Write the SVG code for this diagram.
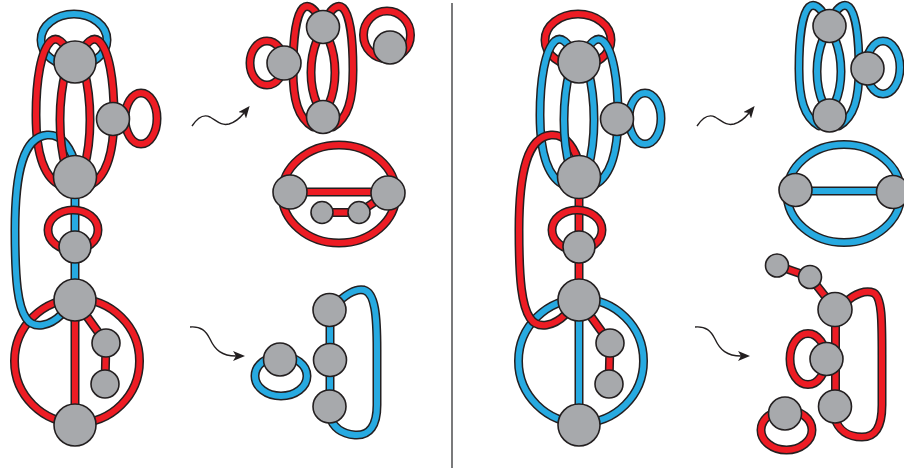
<svg xmlns="http://www.w3.org/2000/svg" width="904" height="470" viewBox="0 0 904 470">
<style>
.k{fill:none;stroke:#231f20;stroke-width:9;stroke-linecap:round}
.r{fill:none;stroke:#ed1c24;stroke-width:6;stroke-linecap:round}
.b{fill:none;stroke:#27aae1;stroke-width:6;stroke-linecap:round}
.n{fill:#a7a9ac;stroke:#231f20;stroke-width:1.6}
.sq{fill:none;stroke:#231f20;stroke-width:1.4}
.div{stroke:#58595b;stroke-width:1.6}
</style>
<defs>
<marker id="ah" viewBox="0 0 12 10" refX="3" refY="5" markerWidth="12" markerHeight="10" markerUnits="userSpaceOnUse" orient="auto">
<path d="M0,0 L12,5 L0,10 L3,5 z" fill="#231f20"/>
</marker>
<!-- main figure edges -->
<ellipse id="mTop" cx="74" cy="40" rx="33" ry="26"/>
<path id="mOL" d="M70 55 C64 42 57 36 51 41 C41 50 36 80 36 115 C36 150 42 178 62 186"/>
<path id="mOR" d="M80 55 C86 42 93 36 99 41 C109 50 114 80 114 115 C114 150 108 178 88 186"/>
<path id="mIL" d="M66 70 C58 100 58 140 66 168"/>
<path id="mIR" d="M84 70 C92 100 92 140 84 168"/>
<ellipse id="mBL" cx="141" cy="118.5" rx="16" ry="25.5"/>
<path id="mArc" d="M74 160 C68 142 58 134 47 135 C24 137 15 170 15 230 C15 282 18 306 26 318 C34 330 50 326 62 314"/>
<path id="mCD" d="M75 177 L75 247"/>
<ellipse id="mDL" cx="73" cy="230" rx="25" ry="20"/>
<path id="mDE" d="M75 247 L75 300"/>
<ellipse id="mCirc" cx="77" cy="361" rx="62.5" ry="62"/>
<path id="mEH" d="M75 300 L75 425"/>
<path id="mEF" d="M75 300 L106 343"/>
<path id="mFG" d="M106 343 L105 384"/>
<!-- top sub-figure edges -->
<path id="pOL" d="M318 16 C314 8 308 4 303 8 C296 15 293 40 293 70 C293 100 298 118 313 127"/>
<path id="pOR" d="M328 16 C332 8 338 4 343 8 C350 15 353 40 353 70 C353 100 348 118 333 127"/>
<path id="pIL" d="M317 40 C309 60 309 85 317 104"/>
<path id="pIR" d="M329 40 C337 60 337 85 329 104"/>
</defs>

<line class="div" x1="452" y1="3" x2="452" y2="468"/>

<!-- ===== LEFT PANEL ===== -->
<g id="left-main">
<g id="L-connectors">
<use href="#mTop" class="k"/><use href="#mTop" class="b"/>
<use href="#mOL" class="k"/><use href="#mOL" class="r"/>
<use href="#mOR" class="k"/><use href="#mOR" class="r"/>
<use href="#mCirc" class="k"/><use href="#mCirc" class="r"/>
<use href="#mArc" class="k"/><use href="#mArc" class="b"/>
<use href="#mIL" class="k"/><use href="#mIL" class="r"/>
<use href="#mIR" class="k"/><use href="#mIR" class="r"/>
<use href="#mBL" class="k"/><use href="#mBL" class="r"/>
<use href="#mCD" class="k"/><use href="#mCD" class="b"/>
<use href="#mDL" class="k"/><use href="#mDL" class="r"/>
<use href="#mDE" class="k"/><use href="#mDE" class="b"/>
<use href="#mEH" class="k"/><use href="#mEH" class="r"/>
<use href="#mEF" class="k"/><use href="#mEF" class="r"/>
<use href="#mFG" class="k"/><use href="#mFG" class="r"/>
</g>
<g id="L-A"><circle class="n" cx="75" cy="62" r="21"/></g>
<g id="L-B"><circle class="n" cx="113" cy="119" r="16.5"/></g>
<g id="L-C"><circle class="n" cx="75" cy="177" r="21.5"/></g>
<g id="L-D"><circle class="n" cx="75" cy="247" r="16"/></g>
<g id="L-E"><circle class="n" cx="75" cy="300" r="21"/></g>
<g id="L-F"><circle class="n" cx="106" cy="343" r="14"/></g>
<g id="L-G"><circle class="n" cx="105" cy="384" r="14"/></g>
<g id="L-H"><circle class="n" cx="75" cy="425" r="21"/></g>
</g>

<g id="L-arrows">
<path class="sq" d="M192 126 C198 117 204 114 210 117 C217 121 221 126 229 124 C236 122 240 118 244 113" marker-end="url(#ah)"/>
<path class="sq" d="M190 327 C201 326 206 331 210 339 C215 350 222 356 236 356" marker-end="url(#ah)"/>
</g>

<g id="left-top">
<g id="LT-connectors">
<ellipse class="k" cx="267" cy="63" rx="17" ry="22"/><ellipse class="r" cx="267" cy="63" rx="17" ry="22"/>
<ellipse class="k" cx="387" cy="35" rx="23.5" ry="24"/><ellipse class="r" cx="387" cy="35" rx="23.5" ry="24"/>
<use href="#pOL" class="k"/><use href="#pOL" class="r"/>
<use href="#pOR" class="k"/><use href="#pOR" class="r"/>
<use href="#pIL" class="k"/><use href="#pIL" class="r"/>
<use href="#pIR" class="k"/><use href="#pIR" class="r"/>
</g>
<g id="LT-1"><circle class="n" cx="323" cy="27" r="16.5"/></g>
<g id="LT-2"><circle class="n" cx="284" cy="63" r="17"/></g>
<g id="LT-3"><circle class="n" cx="323" cy="117" r="16.5"/></g>
<g id="LT-4"><circle class="n" cx="390" cy="47.5" r="16.5"/></g>
</g>

<g id="left-mid">
<g id="LM-connectors">
<ellipse class="k" cx="339" cy="194" rx="57" ry="49"/><ellipse class="r" cx="339" cy="194" rx="57" ry="49"/>
<path class="k" d="M290 192 L388 192"/><path class="r" d="M290 192 L388 192"/>
<path class="k" d="M322 212.5 L359 212.5"/><path class="r" d="M322 212.5 L359 212.5"/>
<path class="k" d="M359 212.5 L388 193"/><path class="r" d="M359 212.5 L388 193"/>
</g>
<g id="LM-1"><circle class="n" cx="290" cy="192" r="17"/></g>
<g id="LM-2"><circle class="n" cx="388" cy="193" r="17"/></g>
<g id="LM-3"><circle class="n" cx="322" cy="212.5" r="11"/></g>
<g id="LM-4"><circle class="n" cx="359" cy="212.5" r="11"/></g>
</g>

<g id="left-bot">
<g id="LB-connectors">
<ellipse class="k" cx="281" cy="376" rx="26" ry="20"/><ellipse class="b" cx="281" cy="376" rx="26" ry="20"/>
<path class="k" d="M330 310 L330 406"/><path class="b" d="M330 310 L330 406"/>
<path class="k" d="M335 305 C345 295 355 288 364 290 C375 293 377 315 377 350 L377 405 C377 425 370 436 355 435 C342 434 333 428 329 415"/>
<path class="b" d="M335 305 C345 295 355 288 364 290 C375 293 377 315 377 350 L377 405 C377 425 370 436 355 435 C342 434 333 428 329 415"/>
</g>
<g id="LB-1"><circle class="n" cx="280" cy="359.5" r="16.5"/></g>
<g id="LB-2"><circle class="n" cx="329.5" cy="310" r="16.5"/></g>
<g id="LB-3"><circle class="n" cx="330" cy="360" r="16.5"/></g>
<g id="LB-4"><circle class="n" cx="329.5" cy="406.5" r="16.5"/></g>
</g>

<!-- ===== RIGHT PANEL ===== -->
<g id="right-main" transform="translate(504,0)">
<g id="R-connectors">
<use href="#mTop" class="k"/><use href="#mTop" class="r"/>
<use href="#mOL" class="k"/><use href="#mOL" class="b"/>
<use href="#mOR" class="k"/><use href="#mOR" class="b"/>
<use href="#mCirc" class="k"/><use href="#mCirc" class="b"/>
<use href="#mArc" class="k"/><use href="#mArc" class="r"/>
<use href="#mIL" class="k"/><use href="#mIL" class="b"/>
<use href="#mIR" class="k"/><use href="#mIR" class="b"/>
<use href="#mBL" class="k"/><use href="#mBL" class="b"/>
<use href="#mCD" class="k"/><use href="#mCD" class="r"/>
<use href="#mDL" class="k"/><use href="#mDL" class="r"/>
<use href="#mDE" class="k"/><use href="#mDE" class="r"/>
<use href="#mEH" class="k"/><use href="#mEH" class="b"/>
<use href="#mEF" class="k"/><use href="#mEF" class="r"/>
<use href="#mFG" class="k"/><use href="#mFG" class="r"/>
</g>
<g id="R-A"><circle class="n" cx="75" cy="62" r="21"/></g>
<g id="R-B"><circle class="n" cx="113" cy="119" r="16.5"/></g>
<g id="R-C"><circle class="n" cx="75" cy="177" r="21.5"/></g>
<g id="R-D"><circle class="n" cx="75" cy="247" r="16"/></g>
<g id="R-E"><circle class="n" cx="75" cy="300" r="21"/></g>
<g id="R-F"><circle class="n" cx="106" cy="343" r="14"/></g>
<g id="R-G"><circle class="n" cx="105" cy="384" r="14"/></g>
<g id="R-H"><circle class="n" cx="75" cy="425" r="21"/></g>
</g>

<g id="R-arrows" transform="translate(505,0)">
<path class="sq" d="M192 126 C198 117 204 114 210 117 C217 121 221 126 229 124 C236 122 240 118 244 113" marker-end="url(#ah)"/>
<path class="sq" d="M190 327 C201 326 206 331 210 339 C215 350 222 356 236 356" marker-end="url(#ah)"/>
</g>

<g id="right-top">
<g id="RT-connectors">
<ellipse class="k" cx="883" cy="67.5" rx="17" ry="26.5"/><ellipse class="b" cx="883" cy="67.5" rx="17" ry="26.5"/>
<g transform="translate(506,-1)">
<use href="#pOL" class="k"/><use href="#pOL" class="b"/>
<use href="#pOR" class="k"/><use href="#pOR" class="b"/>
<use href="#pIL" class="k"/><use href="#pIL" class="b"/>
<use href="#pIR" class="k"/><use href="#pIR" class="b"/>
</g>
</g>
<g id="RT-1"><circle class="n" cx="829.5" cy="26" r="16.5"/></g>
<g id="RT-2"><circle class="n" cx="829.5" cy="115.5" r="16.5"/></g>
<g id="RT-3"><circle class="n" cx="867.5" cy="68.5" r="16.5"/></g>
</g>

<g id="right-mid">
<g id="RM-connectors">
<ellipse class="k" cx="844" cy="193.5" rx="57" ry="49"/><ellipse class="b" cx="844" cy="193.5" rx="57" ry="49"/>
<path class="k" d="M795.5 191 L893 191"/><path class="b" d="M795.5 191 L893 191"/>
</g>
<g id="RM-1"><circle class="n" cx="795.5" cy="190" r="16.5"/></g>
<g id="RM-2"><circle class="n" cx="893" cy="192" r="16.5"/></g>
</g>

<g id="right-bot">
<g id="RB-connectors">
<path class="k" d="M777 265.5 L810 277 L835.5 309.5"/><path class="r" d="M777 265.5 L810 277 L835.5 309.5"/>
<path class="k" d="M845 303 C855 293 866 290 874 293 C882 298 882 320 882 355 L882 405 C882 428 875 437 862 437 C848 437 838 430 835 418"/>
<path class="r" d="M845 303 C855 293 866 290 874 293 C882 298 882 320 882 355 L882 405 C882 428 875 437 862 437 C848 437 838 430 835 418"/>
<path class="k" d="M835.5 309.5 L835.5 406.5"/><path class="r" d="M835.5 309.5 L835.5 406.5"/>
<ellipse class="k" cx="808" cy="359" rx="18" ry="25.5"/><ellipse class="r" cx="808" cy="359" rx="18" ry="25.5"/>
<ellipse class="k" cx="786.5" cy="430" rx="25.5" ry="20"/><ellipse class="r" cx="786.5" cy="430" rx="25.5" ry="20"/>
</g>
<g id="RB-1"><circle class="n" cx="777" cy="265.5" r="11.5"/></g>
<g id="RB-2"><circle class="n" cx="810" cy="277" r="11.5"/></g>
<g id="RB-3"><circle class="n" cx="835" cy="309.5" r="17"/></g>
<g id="RB-4"><circle class="n" cx="826.5" cy="359" r="16.5"/></g>
<g id="RB-5"><circle class="n" cx="835" cy="406.5" r="16.5"/></g>
<g id="RB-6"><circle class="n" cx="785" cy="413.5" r="16.5"/></g>
</g>
</svg>
